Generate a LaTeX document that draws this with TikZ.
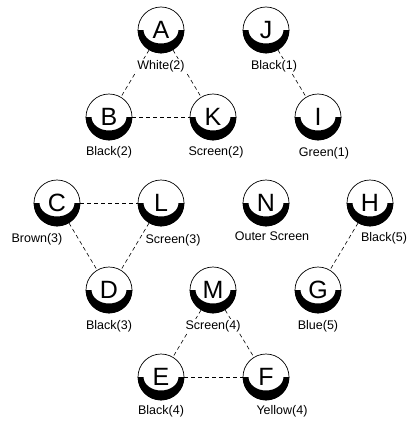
\documentclass[tikz,border=0pt]{standalone}
\usepackage{fontspec}
\setmainfont{Liberation Sans}
\begin{document}
\begin{tikzpicture}[x=1pt,y=1pt,
  sym/.style={circle, draw, line width=0.7pt, minimum size=46pt, inner sep=0pt, font=\fontsize{25}{25}\selectfont},
  conn/.style={draw, line width=0.6pt, dash pattern=on 4pt off 3pt},
  lab/.style={fill=white, inner sep=1pt, font=\fontsize{12.5}{14}\selectfont}]
\useasboundingbox (0,0) rectangle (417,-423);
% symbols
\node[sym] (A) at (161,-30) {A};
\node[sym] (J) at (266,-30) {J};
\node[sym] (B) at (109,-117) {B};
\node[sym] (K) at (213,-117) {K};
\node[sym] (I) at (318,-117) {I};
\node[sym] (C) at (57,-203) {C};
\node[sym] (L) at (161,-203) {L};
\node[sym] (N) at (266,-203) {N};
\node[sym] (H) at (370,-203) {H};
\node[sym] (D) at (109,-290) {D};
\node[sym] (M) at (213,-290) {M};
\node[sym] (G) at (318,-290) {G};
\node[sym] (E) at (161,-377) {E};
\node[sym] (F) at (266,-377) {F};
\foreach \n in {A,J,B,K,I,C,L,N,H,D,M,G,E,F}
  \fill[shift={(\n.center)}] (-23.3pt,0pt) arc[start angle=180,end angle=360,radius=23.3pt]
    -- (17.5pt,0pt) arc[start angle=0,end angle=-180,x radius=17.5pt,y radius=13.5pt] -- cycle;
% connectors
\draw[conn] (A) -- (B);
\draw[conn] (A) -- (K);
\draw[conn] (B) -- (K);
\draw[conn] (J) -- (I);
\draw[conn] (C) -- (L);
\draw[conn] (C) -- (D);
\draw[conn] (L) -- (D);
\draw[conn] (H) -- (G);
\draw[conn] (M) -- (E);
\draw[conn] (M) -- (F);
\draw[conn] (E) -- (F);
% labels
\node[lab] (lA) at (161,-66) {White(2)};
\node[lab] (lJ) at (274,-66) {Black(1)};
\node[lab] (lB) at (109,-152) {Black(2)};
\node[lab] (lK) at (216,-152) {Screen(2)};
\node[lab] (lI) at (324,-153) {Green(1)};
\node[lab] (lC) at (37,-239) {Brown(3)};
\node[lab] (lL) at (173,-240) {Screen(3)};
\node[lab] (lN) at (272,-236) {Outer Screen};
\node[lab] (lH) at (384,-238) {Black(5)};
\node[lab] (lD) at (109,-326) {Black(3)};
\node[lab] (lM) at (213,-326) {Screen(4)};
\node[lab] (lG) at (318,-326) {Blue(5)};
\node[lab] (lE) at (161,-411) {Black(4)};
\node[lab] (lF) at (282,-411) {Yellow(4)};
\end{tikzpicture}
\end{document}
